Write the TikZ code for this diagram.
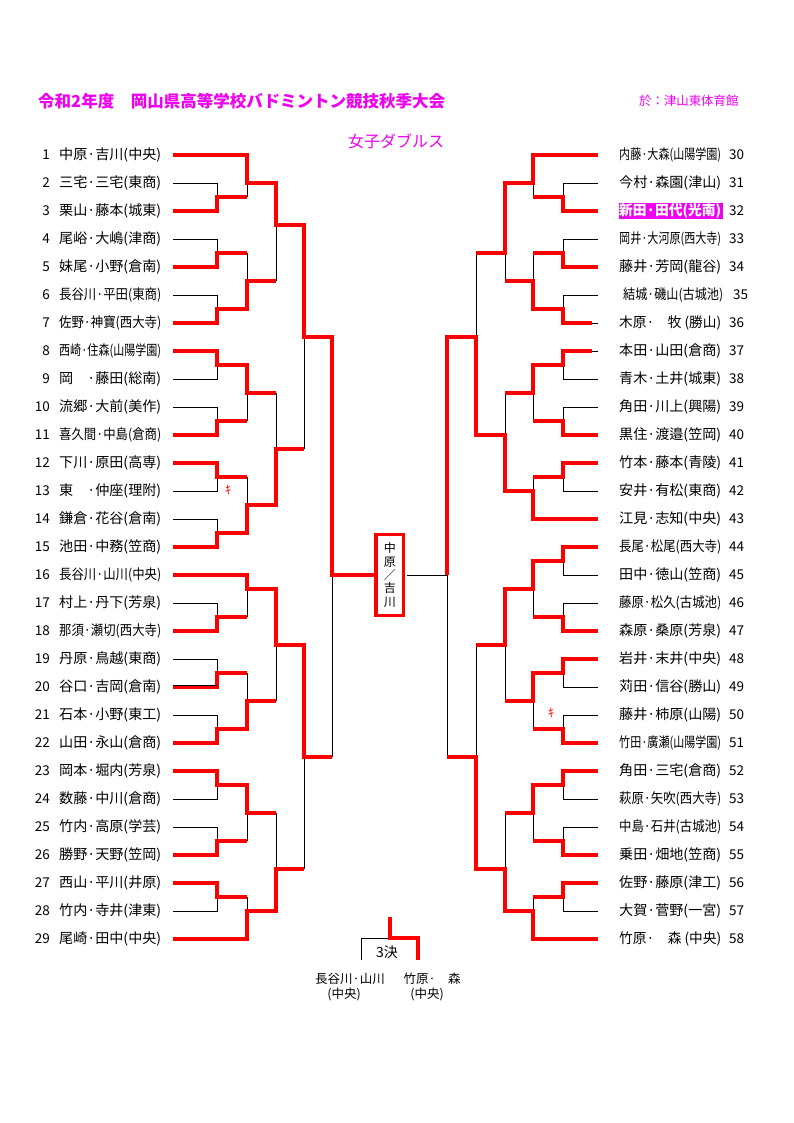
\documentclass[tikz,border=0pt]{standalone}
\usepackage{fontspec}
\setmainfont{Noto Sans CJK JP}
\usepackage{graphicx}
\definecolor{mag}{RGB}{240,0,240}
\newcommand\fitname[1]{\resizebox{102pt}{\height}{#1}}
\newcommand\fitnameb[1]{\resizebox{100pt}{\height}{#1}}
\begin{document}
\begin{tikzpicture}[x=1pt,y=-1pt,
  win/.style={draw=red,line width=3.2pt,line join=miter},
  lose/.style={draw=black,line width=0.9pt},
  nm/.style={font=\fontsize{14}{16}\selectfont,inner sep=0pt},
  sf/.style={font=\fontsize{12.5}{14}\selectfont,inner sep=0pt},
  num/.style={font=\fontsize{13.5}{15}\selectfont,inner sep=0pt},
  kiken/.style={text=red,font=\fontsize{12}{12}\selectfont,inner sep=0pt}]
\useasboundingbox (0,0) rectangle (794,1123);
\fill[white] (0,0) rectangle (794,1123);

% headings
\node[anchor=west,text=mag,inner sep=0] (title) at (38,101)
  {\resizebox{407pt}{\height}{\fontsize{16.5}{18}\selectfont\bfseries 令和2年度　岡山県高等学校バドミントン競技秋季大会}};
\node[anchor=west,text=mag,inner sep=0,font=\fontsize{16}{18}\selectfont] (event) at (348,141) {女子ダブルス};
\node[anchor=west,text=mag,inner sep=0,font=\fontsize{12.4}{14}\selectfont] (venue) at (639,101) {於：津山東体育館};

% champion box
\node[draw=red,line width=3.2pt,fill=white,minimum width=27.5pt,minimum height=81pt,
      inner sep=0pt,align=center,font=\fontsize{12}{13.4}\selectfont] (champ) at (389.75,575)
      {中\\原\\／\\吉\\川};

% left names
\foreach \i/\n in {1/中原·吉川(中央),2/三宅·三宅(東商),3/栗山·藤本(城東),4/尾峪·大嶋(津商),
  5/妹尾·小野(倉南),6/長谷川·平田(東商),7/佐野·神寶(西大寺),8/西崎·住森(山陽学園),
  9/岡　·藤田(総南),10/流郷·大前(美作),11/喜久間·中島(倉商),12/下川·原田(高専),
  13/東　·仲座(理附),14/鎌倉·花谷(倉南),15/池田·中務(笠商),16/長谷川·山川(中央),
  17/村上·丹下(芳泉),18/那須·瀬切(西大寺),19/丹原·鳥越(東商),20/谷口·吉岡(倉南),
  21/石本·小野(東工),22/山田·永山(倉商),23/岡本·堀内(芳泉),24/数藤·中川(倉商),
  25/竹内·高原(学芸),26/勝野·天野(笠岡),27/西山·平川(井原),28/竹内·寺井(津東),
  29/尾崎·田中(中央)}{
  \node[num,anchor=east] (nl\i) at (50,{155+28*(\i-1)}) {\i};
  \node[nm,anchor=west] (L\i) at (59,{155+28*(\i-1)}) {\fitname{\n}};
}

% right names
\foreach \i/\n in {30/内藤·大森(山陽学園),31/今村·森園(津山),33/岡井·大河原(西大寺),
  34/藤井·芳岡(龍谷),36/木原·　牧 (勝山),37/本田·山田(倉商),38/青木·土井(城東),
  39/角田·川上(興陽),40/黒住·渡邉(笠岡),41/竹本·藤本(青陵),42/安井·有松(東商),
  43/江見·志知(中央),44/長尾·松尾(西大寺),45/田中·徳山(笠商),46/藤原·松久(古城池),
  47/森原·桑原(芳泉),48/岩井·末井(中央),49/苅田·信谷(勝山),50/藤井·柿原(山陽),
  51/竹田·廣瀬(山陽学園),52/角田·三宅(倉商),53/萩原·矢吹(西大寺),54/中島·石井(古城池),
  55/乗田·畑地(笠商),56/佐野·藤原(津工),57/大賀·菅野(一宮),58/竹原·　森 (中央)}{
  \node[nm,anchor=west] (R\i) at (619,{155+28*(\i-30)}) {\fitname{\n}};
  \node[num,anchor=west] (nr\i) at (729,{155+28*(\i-30)}) {\i};
}
\fill[mag] (619,203) rectangle (723,219);
\node[nm,anchor=west,text=white] (R32) at (619,211) {\fitname{\bfseries 新田·田代(光南)}};
\node[num,anchor=west] (nr32) at (729,211) {32};
\node[nm,anchor=west] (R35) at (623,295) {\fitnameb{結城·磯山(古城池)}};
\node[num,anchor=west] (nr35) at (733,295) {35};

% forfeit marks
\node[kiken] (k1) at (228,490) {ｷ};
\node[kiken] (k2) at (551,713) {ｷ};

% ---------- left side: losers (black) ----------
\foreach \a/\b in {183/197,239/253,295/309,379/365,407/421,491/477,519/533,603/617,
  659/673,715/729,799/785,827/841,911/897}{
  \draw[lose] (173,\a)--(217,\a)--(217,\b);
}
\foreach \x/\a/\b in {247/197/183,247/253/281,247/421/393,247/477/505,247/617/589,
  247/673/701,247/841/813,247/897/911,276/281/225,276/393/449,276/701/645,276/813/869,
  304/449/337,304/869/757,332/757/575}{
  \draw[lose] (\x,\a)--(\x,\b);
}
% ---------- right side: losers (black) ----------
\foreach \a/\b in {183/197,239/253,295/309,379/365,407/421,491/477,575/561,603/617,
  687/673,715/729,799/785,827/841,911/897}{
  \draw[lose] (598,\a)--(563,\a)--(563,\b);
}
\foreach \x/\a/\b in {533/197/183,533/253/281,533/421/393,533/477/491,533/617/589,
  533/729/701,533/841/813,533/897/911,505/281/253,505/393/435,505/701/645,505/813/869,
  476/253/337,476/645/757,447/757/575}{
  \draw[lose] (\x,\a)--(\x,\b);
}
\draw[lose] (598,323)--(592,323);
\draw[lose] (598,351)--(592,351);
\draw[lose] ([xshift=1.6pt]champ.east)--(447,575);

% ---------- left side: winners (red) ----------
\draw[win] (173,155)--(247,155)--(247,183)--(276,183)--(276,225)--(304,225)--(304,337)--(332,337)--(332,575)--(champ.west);
\draw[win] (173,211)--(217,211)--(217,197)--(247,197);
\draw[win] (173,267)--(217,267)--(217,253)--(247,253);
\draw[win] (173,323)--(217,323)--(217,309)--(247,309)--(247,281)--(276,281);
\draw[win] (173,351)--(217,351)--(217,365)--(247,365)--(247,393)--(276,393);
\draw[win] (173,435)--(217,435)--(217,421)--(247,421);
\draw[win] (173,463)--(217,463)--(217,477)--(247,477);
\draw[win] (173,547)--(217,547)--(217,533)--(247,533)--(247,505)--(276,505)--(276,449)--(304,449);
\draw[win] (173,575)--(247,575)--(247,589)--(276,589)--(276,645)--(304,645)--(304,757)--(332,757);
\draw[win] (173,631)--(217,631)--(217,617)--(247,617);
\draw[win] (173,687)--(217,687)--(217,673)--(247,673);
\draw[win] (173,743)--(217,743)--(217,729)--(247,729)--(247,701)--(276,701);
\draw[win] (173,771)--(217,771)--(217,785)--(247,785)--(247,813)--(276,813);
\draw[win] (173,855)--(217,855)--(217,841)--(247,841);
\draw[win] (173,883)--(217,883)--(217,897)--(247,897);
\draw[win] (173,939)--(247,939)--(247,911)--(276,911)--(276,869)--(304,869);
\draw[lose] (173,685.3)--(217,685.3);

% ---------- right side: winners (red) ----------
\draw[win] (598,155)--(533,155)--(533,183)--(505,183)--(505,253)--(476,253);
\draw[win] (598,211)--(563,211)--(563,197)--(533,197);
\draw[win] (598,267)--(563,267)--(563,253)--(533,253);
\draw[win] (592,323)--(563,323)--(563,309)--(533,309)--(533,281)--(505,281);
\draw[win] (592,351)--(563,351)--(563,365)--(533,365)--(533,393)--(505,393);
\draw[win] (598,435)--(563,435)--(563,421)--(533,421);
\draw[win] (598,463)--(563,463)--(563,477)--(533,477);
\draw[win] (598,519)--(533,519)--(533,491)--(505,491)--(505,435)--(476,435)--(476,337)--(447,337)--(447,575);
\draw[win] (598,547)--(563,547)--(563,561)--(533,561)--(533,589)--(505,589)--(505,645)--(476,645);
\draw[win] (598,631)--(563,631)--(563,617)--(533,617);
\draw[win] (598,659)--(563,659)--(563,673)--(533,673)--(533,701)--(505,701);
\draw[win] (598,743)--(563,743)--(563,729)--(533,729);
\draw[win] (598,771)--(563,771)--(563,785)--(533,785)--(533,813)--(505,813);
\draw[win] (598,855)--(563,855)--(563,841)--(533,841);
\draw[win] (598,883)--(563,883)--(563,897)--(533,897);
\draw[win] (598,939)--(533,939)--(533,911)--(505,911)--(505,869)--(476,869)--(476,757)--(447,757);

% ---------- third place ----------
\node[nm] (third) at (387,952) {3決};
\coordinate (tl) at (361,960);
\coordinate (tr) at (418,960);
\coordinate (tt) at (390,917);
\draw[lose] (tl)--(361,938)--(390,938);
\draw[win] (tt)--(390,938)--(418,938)--(tr);
\node[sf] (sfA) at (350,979) {長谷川·山川};
\node[sf] (sfAs) at (344,994) {(中央)};
\node[sf] (sfB) at (432,979) {竹原·　森};
\node[sf] (sfBs) at (427,994) {(中央)};
\end{tikzpicture}
\end{document}
